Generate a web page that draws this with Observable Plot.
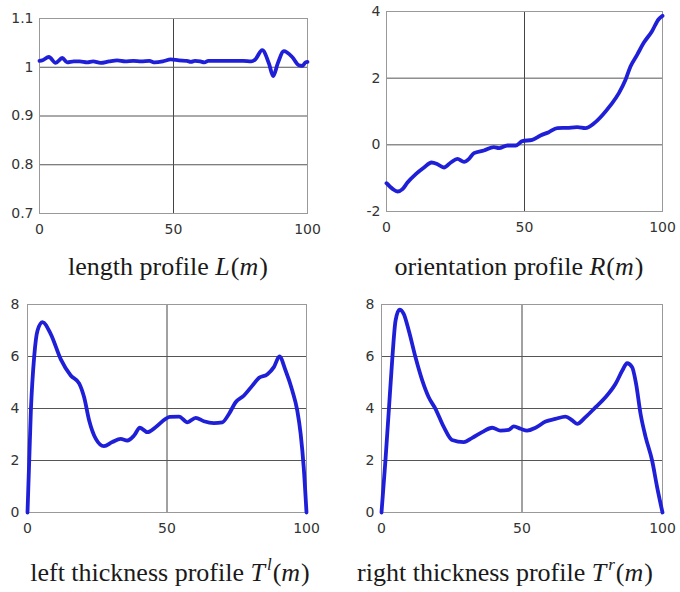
<!DOCTYPE html>
<html>
<head>
<meta charset="utf-8">
<script src="https://cdn.jsdelivr.net/npm/d3@7"></script>
<script src="https://cdn.jsdelivr.net/npm/@observablehq/plot@0.6"></script>
<style>
  html, body { margin: 0; padding: 0; background: #fff; }
  #wrap { position: relative; width: 680px; height: 592px; background: #fff; overflow: hidden; }
  .panel { position: absolute; }
  .cap { position: absolute; transform: translateX(-50%); font-family: "Liberation Serif", "DejaVu Serif", serif; font-size: 26px; white-space: nowrap; color: #1a1a1a; line-height: 30px; }
  .cap i { margin-right: 1px; }
  .cap sup { font-size: 17px; vertical-align: 0; position: relative; top: -11px; margin-left: 1px; }
</style>
</head>
<body>
<div id="wrap">
  <div class="panel" id="p1" style="left:0;top:0"></div>
  <div class="panel" id="p2" style="left:340px;top:0"></div>
  <div class="panel" id="p3" style="left:0;top:290px"></div>
  <div class="panel" id="p4" style="left:340px;top:290px"></div>
  <div class="cap" style="left:168px;top:252px">length profile <i>L</i>(<i>m</i>)</div>
  <div class="cap" style="left:519px;top:252px">orientation profile <i>R</i>(<i>m</i>)</div>
  <div class="cap" style="left:170px;top:558px">left thickness profile <i>T</i><sup><i>l</i></sup>(<i>m</i>)</div>
  <div class="cap" style="left:505px;top:558px">right thickness profile <i>T</i><sup><i>r</i></sup>(<i>m</i>)</div>
</div>
<script>
// shared x ticks
const xTicks = [0, 50, 100];
const xLabels = ["0", "50", "100"];

// length profile L(m)
const lenX = [0, 1.0, 3.5, 6.0, 8.5, 10.3, 12.8, 15, 17.8, 20, 22.8, 26, 29, 32, 35, 38, 41, 43, 46, 49, 52, 55, 56.5, 58, 60, 61.5, 63, 67, 72, 76, 79, 80.5, 83.1, 85.6, 87.2, 88.9, 91.2, 94.3, 96.8, 98, 99.3, 100];
const lenY = [1.013, 1.014, 1.021, 1.009, 1.019, 1.010, 1.012, 1.012, 1.010, 1.012, 1.009, 1.012, 1.014, 1.012, 1.013, 1.012, 1.013, 1.010, 1.012, 1.016, 1.014, 1.013, 1.011, 1.013, 1.012, 1.010, 1.013, 1.013, 1.013, 1.013, 1.012, 1.016, 1.035, 1.008, 0.982, 1.008, 1.033, 1.021, 1.004, 1.003, 1.010, 1.011];
const lenTicks = [0.7, 0.8, 0.9, 1, 1.1];
const lenLabels = ["0.7", "0.8", "0.9", "1", "1.1"];
const lenGrid = [0.8, 0.9, 1];

// orientation profile R(m)
const oriX = [0, 2.2, 4.0, 5.8, 7.6, 10.6, 13.6, 16.3, 18.5, 20.8, 23.3, 25.7, 28.1, 29.9, 31.7, 35.3, 38.9, 40.8, 43.8, 46.8, 49.2, 52.8, 55.8, 58.8, 61.9, 65.5, 69.1, 72.1, 75.1, 78.2, 81.2, 84.2, 86.6, 88.4, 90.8, 93.2, 96.2, 98.6, 100];
const oriY = [-1.15, -1.32, -1.40, -1.33, -1.13, -0.88, -0.68, -0.53, -0.58, -0.68, -0.53, -0.42, -0.51, -0.42, -0.25, -0.17, -0.07, -0.10, -0.02, -0.02, 0.11, 0.15, 0.28, 0.38, 0.50, 0.51, 0.53, 0.50, 0.64, 0.89, 1.19, 1.55, 1.95, 2.35, 2.70, 3.06, 3.41, 3.77, 3.87];
const oriTicks = [-2, 0, 2, 4];
const oriLabels = ["-2", "0", "2", "4"];
const oriGrid = [0, 2];

// left thickness profile T^l(m)
const leftX = [0, 1.2, 2.4, 3.6, 5.4, 8.3, 11.9, 15.5, 18.5, 20.3, 22.1, 24.5, 27.4, 30.4, 33.4, 35.8, 38.2, 40.3, 43.0, 45.9, 49.5, 51, 54.3, 57.3, 60.3, 63.2, 66.8, 69.8, 72.2, 74.6, 77.6, 80.6, 83.0, 85.9, 88.3, 90.3, 92.5, 94.9, 96.7, 97.9, 99.0, 100];
const leftY = [0, 3.9, 6.0, 7.0, 7.32, 6.87, 5.9, 5.27, 4.97, 4.43, 3.54, 2.83, 2.55, 2.71, 2.83, 2.77, 2.96, 3.26, 3.09, 3.28, 3.6, 3.68, 3.69, 3.47, 3.64, 3.51, 3.44, 3.47, 3.79, 4.24, 4.5, 4.88, 5.18, 5.31, 5.59, 6.0, 5.46, 4.69, 3.92, 3.03, 1.74, 0];

// right thickness profile T^r(m)
const rightX = [0, 1.4, 2.6, 3.8, 5.0, 6.4, 7.9, 9.7, 12.1, 14.5, 16.8, 19.2, 22.2, 25.1, 29.3, 32.3, 35.8, 39.4, 42.3, 45.3, 47.1, 49.5, 51.8, 54.8, 58.4, 61.9, 65.5, 67.9, 69.6, 72.6, 76.2, 79.7, 83.3, 85.7, 87.4, 89.2, 90.6, 92.2, 94.0, 96.3, 98.1, 100];
const rightY = [0, 2.0, 3.92, 5.85, 7.38, 7.8, 7.64, 7.0, 5.97, 5.08, 4.43, 3.99, 3.28, 2.79, 2.71, 2.87, 3.09, 3.26, 3.15, 3.18, 3.31, 3.22, 3.15, 3.26, 3.5, 3.6, 3.69, 3.54, 3.41, 3.67, 4.05, 4.43, 4.95, 5.46, 5.74, 5.59, 4.95, 3.79, 2.9, 2.0, 0.97, 0];

const thickTicks = [0, 2, 4, 6, 8];
const thickLabels = ["0", "2", "4", "6", "8"];
const thickGrid = [2, 4, 6];

function panel(id, o) {
  const data = o.xs.map((x, i) => ({x, y: o.ys[i]}));
  const svg = Plot.plot({
    width: 340,
    height: 250,
    marginLeft: o.m[0], marginRight: o.m[1], marginTop: o.m[2], marginBottom: o.m[3],
    style: {fontFamily: "'DejaVu Sans', sans-serif", fontSize: "14px", color: "#333", background: "transparent"},
    x: {domain: [0, 100], ticks: xTicks, tickFormat: d => xLabels[xTicks.indexOf(d)], tickSize: 0, tickPadding: 11, label: null},
    y: {domain: o.yDomain, ticks: o.yTicks, tickFormat: d => o.yLabels[o.yTicks.indexOf(d)], tickSize: 0, tickPadding: o.yPad, label: null},
    marks: [
      Plot.ruleX([50], {stroke: "#444", strokeWidth: 1}),
      Plot.ruleY(o.yGrid, {stroke: "#555", strokeWidth: 1}),
      Plot.frame({stroke: "#999"}),
      Plot.line(data, {x: "x", y: "y", stroke: "#1f1fd8", strokeWidth: 3.8, curve: "monotone-x", strokeLinejoin: "round", strokeLinecap: "round"})
    ]
  });
  document.getElementById(id).append(svg);
}

panel("p1", {xs: lenX, ys: lenY, yDomain: [0.7, 1.1], yTicks: lenTicks, yLabels: lenLabels, yGrid: lenGrid, m: [39, 33, 18, 37], yPad: 6});
panel("p2", {xs: oriX, ys: oriY, yDomain: [-2, 4], yTicks: oriTicks, yLabels: oriLabels, yGrid: oriGrid, m: [46, 18, 11, 39], yPad: 6});
panel("p3", {xs: leftX, ys: leftY, yDomain: [0, 8], yTicks: thickTicks, yLabels: thickLabels, yGrid: thickGrid, m: [27, 34, 14, 28], yPad: 8});
panel("p4", {xs: rightX, ys: rightY, yDomain: [0, 8], yTicks: thickTicks, yLabels: thickLabels, yGrid: thickGrid, m: [41, 18, 14, 28], yPad: 7});
</script>
</body>
</html>
